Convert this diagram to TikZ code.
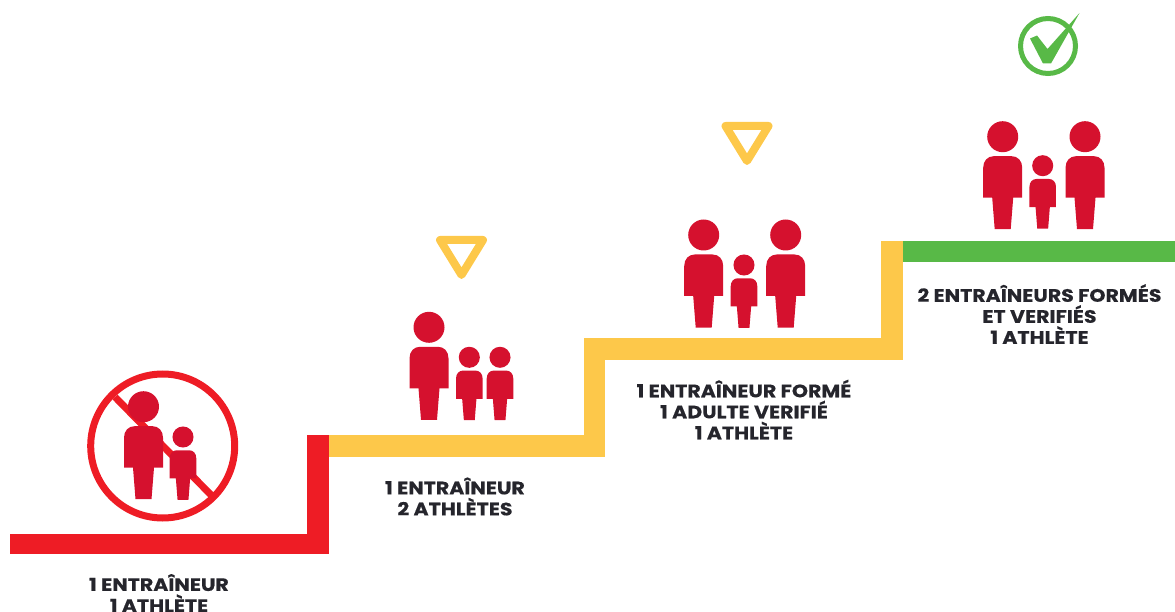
\documentclass[tikz,border=0pt]{standalone}
\usepackage{fontspec}
\setmainfont{Poppins}[BoldFeatures={FakeStretch=1.14,FakeBold=0.4}]
\definecolor{personred}{HTML}{D5112E}
\definecolor{stairred}{HTML}{EE1C25}
\definecolor{stairyellow}{HTML}{FDC84A}
\definecolor{stairgreen}{HTML}{58B947}
\definecolor{labelink}{HTML}{25252C}
\tikzset{
  person/.pic={
    \fill[personred] (0,0) circle[radius=15.5];
    \fill[personred] (-19.5,61) -- (-19.5,31) .. controls (-19.5,24) and (-15,19.5) .. (-9,19.5)
      -- (9,19.5) .. controls (15,19.5) and (19.5,24) .. (19.5,31) -- (19.5,61) -- (10.5,61)
      -- (8,92.5) -- (-8,92.5) -- (-10.5,61) -- cycle;
  },
  yieldmark/.style={draw=stairyellow,line width=8,line join=round},
  ban/.style={draw=stairred,line width=7},
  steplabel/.style={font=\bfseries\fontsize{18}{21}\selectfont,text=labelink,align=center,inner sep=0pt}
}
\begin{document}
\begin{tikzpicture}[x=1pt,y=-1pt]
\useasboundingbox (0,0) rectangle (1175,612);
\clip (0,0) rectangle (1175,612);
% stairs
\fill[stairred] (10,534) rectangle (329,554);
\fill[stairred] (307,435) rectangle (329,554);
\fill[stairyellow] (329,435) rectangle (605,457);
\fill[stairyellow] (584,338) rectangle (605,457);
\fill[stairyellow] (605,338) rectangle (903,360);
\fill[stairyellow] (881,241) rectangle (903,360);
\fill[stairgreen] (903,241) rectangle (1175,262);
% stage 1
\draw[ban] (162.7,446) circle[radius=72];
\draw[ban] (115,397) -- (213,497);
\pic at (143.5,406.7) {person};
\pic[scale=.68] at (183,437) {person};
% stage 2
\draw[yieldmark] (440,240) -- (483,240) -- (461.5,275) -- cycle;
\pic at (429,327.3) {person};
\pic[scale=.68] at (469.3,357.3) {person};
\pic[scale=.68] at (500,357.3) {person};
% stage 3
\draw[yieldmark] (725.5,126) -- (768.5,126) -- (747,161) -- cycle;
\pic at (703.7,235) {person};
\pic at (785.7,235) {person};
\pic[scale=.68] at (744,265) {person};
% stage 4
\draw[draw=stairgreen,line width=5] (1048,46) circle[radius=27.5];
\fill[stairgreen] (1030,38.5) -- (1037,35.5) -- (1047.5,49) -- (1079.5,13) -- (1051,63.5) -- (1043,63.5) -- cycle;
\pic at (1002.7,136.7) {person};
\pic at (1085,136.7) {person};
\pic[scale=.68] at (1042.7,165.7) {person};
% labels
\node[steplabel] (l1) at (159,593) {1 ENTRAÎNEUR\\1 ATHLÈTE};
\node[steplabel] (l2) at (455,496.5) {1 ENTRAÎNEUR\\2 ATHLÈTES};
\node[steplabel] (l3) at (744,409.5) {1 ENTRAÎNEUR FORMÉ\\1 ADULTE VERIFIÉ\\1 ATHLÈTE};
\node[steplabel] (l4) at (1039.5,314) {2 ENTRAÎNEURS FORMÉS\\ET VERIFIÉS\\1 ATHLÈTE};
\end{tikzpicture}
\end{document}
